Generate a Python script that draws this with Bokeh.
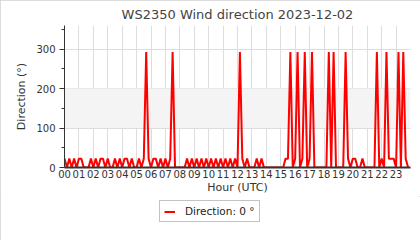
from bokeh.plotting import figure
from bokeh.layouts import column
from bokeh.models import Legend, BoxAnnotation, FixedTicker, Range1d
from bokeh.embed import file_html
from bokeh.resources import INLINE

# Wind direction (degrees), 10-minute samples, one row per hour (00..23)
h00 = [22.5, 0, 22.5, 0, 22.5, 0]
h01 = [22.5, 22.5, 0, 0, 0, 22.5]
h02 = [0, 22.5, 0, 22.5, 22.5, 0]
h03 = [22.5, 0, 0, 22.5, 0, 22.5]
h04 = [0, 22.5, 22.5, 0, 22.5, 0]
h05 = [0, 22.5, 0, 22.5, 292.5, 22.5]
h06 = [0, 22.5, 22.5, 0, 22.5, 0]
h07 = [22.5, 0, 22.5, 292.5, 0, 0]
h08 = [0, 0, 0, 22.5, 0, 22.5]
h09 = [0, 22.5, 0, 22.5, 0, 22.5]
h10 = [0, 22.5, 0, 22.5, 0, 22.5]
h11 = [0, 22.5, 0, 22.5, 0, 22.5]
h12 = [0, 292.5, 22.5, 0, 22.5, 0]
h13 = [0, 0, 22.5, 0, 22.5, 0]
h14 = [0, 0, 0, 0, 0, 0]
h15 = [0, 0, 22.5, 22.5, 292.5, 0]
h16 = [22.5, 292.5, 0, 22.5, 292.5, 0]
h17 = [22.5, 292.5, 0, 0, 0, 0]
h18 = [0, 0, 292.5, 0, 292.5, 0]
h19 = [0, 0, 0, 292.5, 22.5, 0]
h20 = [22.5, 22.5, 0, 0, 22.5, 0]
h21 = [0, 0, 0, 0, 292.5, 0]
h22 = [22.5, 0, 292.5, 22.5, 22.5, 22.5]
h23 = [0, 292.5, 0, 292.5, 22.5, 0]

hour_rows = [h00, h01, h02, h03, h04, h05, h06, h07, h08, h09, h10, h11,
             h12, h13, h14, h15, h16, h17, h18, h19, h20, h21, h22, h23]
direction = [v for row in hour_rows for v in row]
samples_per_hour = 6
hours = [i / samples_per_hour for i in range(len(direction))]

tick_labels = ["00", "01", "02", "03", "04", "05", "06", "07", "08", "09", "10", "11",
               "12", "13", "14", "15", "16", "17", "18", "19", "20", "21", "22", "23"]
y_ticks = [0, 100, 200, 300]
last_value = direction[-1]

FONT = "DejaVu Sans"

p = figure(width=420, height=196, output_backend="svg", toolbar_location=None,
           x_range=Range1d(0, 24), y_range=Range1d(0, 360),
           min_border_left=64, min_border_right=10, min_border_top=25, min_border_bottom=28)
p.title.text = "WS2350 Wind direction 2023-12-02"
p.title.align = "center"
p.title.text_font = FONT
p.title.text_font_size = "13px"
p.title.text_font_style = "normal"
p.title.text_color = "#444444"
p.title.standoff = 7

p.outline_line_color = None
p.background_fill_color = "white"
p.border_fill_color = "white"

p.add_layout(BoxAnnotation(bottom=100, top=200, fill_color="#f4f4f4", fill_alpha=1.0,
                           line_color=None, level="underlay"))

p.xaxis.ticker = FixedTicker(ticks=list(range(len(tick_labels))))
p.xaxis.major_label_overrides = {i: t for i, t in enumerate(tick_labels)}
p.yaxis.ticker = FixedTicker(ticks=y_ticks, minor_ticks=[50, 150, 250, 350])

for ax in (p.xaxis[0], p.yaxis[0]):
    ax.major_label_text_font = FONT
    ax.major_label_text_font_size = "10px"
    ax.major_label_text_color = "#333333"
    ax.axis_label_text_font = FONT
    ax.axis_label_text_font_size = "11px"
    ax.axis_label_text_font_style = "normal"
    ax.axis_label_text_color = "#333333"
    ax.axis_line_color = "#333333"
    ax.major_tick_line_color = "#333333"
    ax.minor_tick_line_color = "#333333"
    ax.major_tick_out = 5
    ax.major_tick_in = 0
    ax.minor_tick_out = 3
    ax.minor_tick_in = 0

p.xaxis.axis_label = "Hour (UTC)"
p.yaxis.axis_label = "Direction (°)"
p.xaxis.major_tick_out = 0
p.xaxis.minor_tick_line_color = None
p.xaxis.axis_line_width = 2
p.xaxis.major_label_standoff = 2
p.xaxis.axis_label_standoff = 0
p.yaxis.major_label_standoff = 4

p.xgrid.grid_line_color = "#dddddd"
p.ygrid.grid_line_color = "#dddddd"
p.xgrid.grid_line_width = 1
p.ygrid.grid_line_width = 1

r = p.line(hours, direction, line_color="red", line_width=2)

# Legend strip below the chart (its sample line uses the same series, kept off-view)
p2 = figure(width=420, height=44, output_backend="svg", toolbar_location=None,
            x_axis_type=None, y_axis_type=None, min_border=0,
            x_range=Range1d(0, 24), y_range=Range1d(1000, 1001))
p2.outline_line_color = None
p2.grid.visible = False
p2.border_fill_color = "white"
p2.background_fill_color = "white"
r2 = p2.line(hours, direction, line_color="red", line_width=2)

legend = Legend(items=[(f"Direction: {last_value:g} °", [r2])], location=(95, 18),
                orientation="horizontal", border_line_color="#888888", border_line_width=1,
                label_text_font=FONT, label_text_font_size="10.5px", label_text_color="#222222",
                glyph_width=11, glyph_height=11, label_height=11, padding=4, spacing=0,
                margin=0, label_standoff=10, background_fill_alpha=1.0)
p2.add_layout(legend, "center")

layout = column(p, p2, spacing=0, styles={"outline": "1px solid #d0d0d0", "outline-offset": "-1px"})

open("out.html", "w").write(file_html(layout, INLINE))
